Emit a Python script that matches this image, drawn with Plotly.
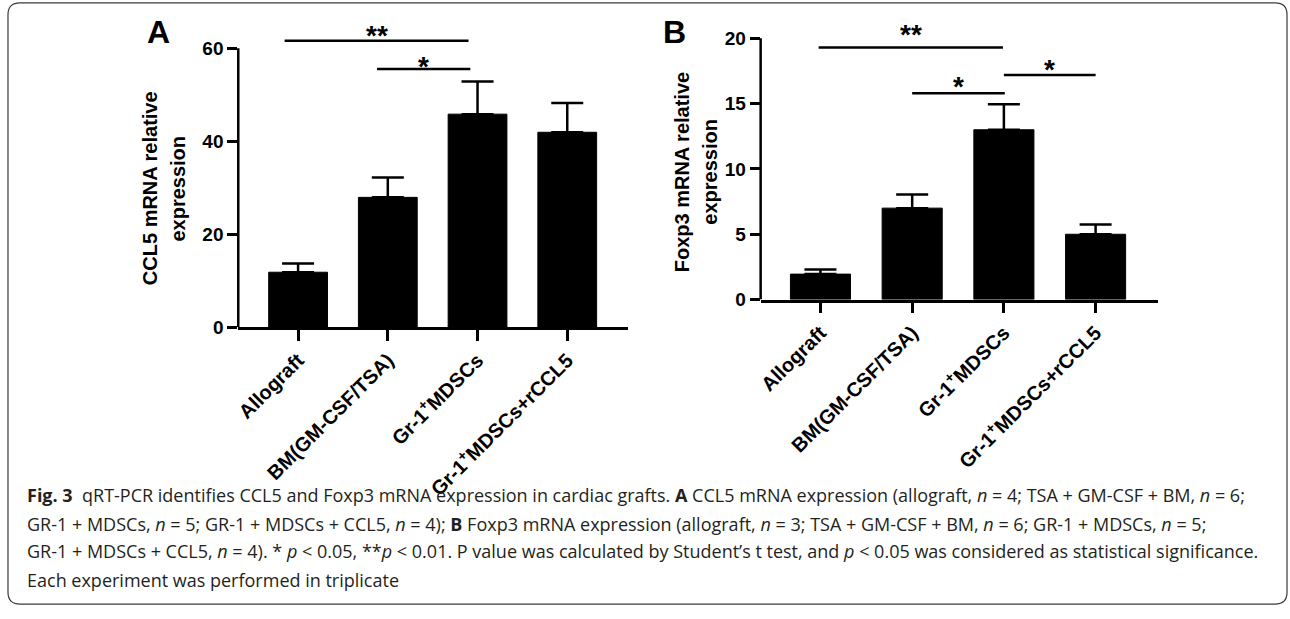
import plotly.graph_objects as go

# ---------------- data ----------------
categories = ["Allograft", "BM(GM-CSF/TSA)", "Gr-1<sup>+</sup>MDSCs", "Gr-1<sup>+</sup>MDSCs+rCCL5"]
ccl5_mean = [11.8, 27.9, 45.8, 41.9]
ccl5_err = [1.9, 4.3, 7.0, 6.3]
foxp3_mean = [1.95, 7.0, 13.0, 5.0]
foxp3_err = [0.35, 1.05, 1.95, 0.75]
ccl5_ticks = [0, 20, 40, 60]
foxp3_ticks = [0, 5, 10, 15, 20]
# significance brackets: (x_start, x_end, y_line, label, y_label)
ccl5_sig = [(-0.15, 1.90, 61.6, "**", 64.1), (0.88, 1.92, 55.5, "*", 57.4)]
foxp3_sig = [(-0.02, 1.99, 19.3, "**", 20.75), (1.0, 2.01, 15.8, "*", 16.8), (2.0, 3.0, 17.2, "*", 18.1)]

caption_lines = [
    "<b>Fig. 3</b>  qRT-PCR identifies CCL5 and Foxp3 mRNA expression in cardiac grafts. <b>A</b> CCL5 mRNA expression (allograft, <i>n</i> = 4; TSA + GM-CSF + BM, <i>n</i> = 6;",
    "GR-1 + MDSCs, <i>n</i> = 5; GR-1 + MDSCs + CCL5, <i>n</i> = 4); <b>B</b> Foxp3 mRNA expression (allograft, <i>n</i> = 3; TSA + GM-CSF + BM, <i>n</i> = 6; GR-1 + MDSCs, <i>n</i> = 5;",
    "GR-1 + MDSCs + CCL5, <i>n</i> = 4). * <i>p</i> &lt; 0.05, **<i>p</i> &lt; 0.01. P value was calculated by Student’s t test, and <i>p</i> &lt; 0.05 was considered as statistical significance.",
    "Each experiment was performed in triplicate",
]

# ---------------- layout geometry (pixels) ----------------
W, H = 1290, 619
BOLD = "Liberation Sans, Arial, sans-serif"
CAP_FONT = "Open Sans, sans-serif"


def px_x(p):
    return p / W


def px_y(p):
    return 1 - p / H


fig = go.Figure()

panels = [
    dict(xa="x", ya="y", mean=ccl5_mean, err=ccl5_err, ticks=ccl5_ticks, sig=ccl5_sig,
         left=235, right=626, zero=333, top=49, spacing=90, letter="A", letter_px=(155, 33),
         title=["CCL5 mRNA relative", "expression"], title_x=(146.5, 175), title_y=191.5),
    dict(xa="x2", ya="y2", mean=foxp3_mean, err=foxp3_err, ticks=foxp3_ticks, sig=foxp3_sig,
         left=759, right=1158, zero=305, top=39, spacing=92, letter="B", letter_px=(673, 33),
         title=["Foxp3 mRNA relative", "expression"], title_x=(679.5, 708), title_y=175),
]

for i, p in enumerate(panels):
    fig.add_trace(go.Bar(
        x=categories, y=p["mean"], xaxis=p["xa"], yaxis=p["ya"],
        marker=dict(color="black", line=dict(width=1, color="black")), width=0.655,
        error_y=dict(type="data", array=p["err"], arrayminus=[0] * len(p["err"]),
                     symmetric=False, color="black", thickness=2.5, width=16),
        showlegend=False, hoverinfo="skip",
    ))
    tmax = p["ticks"][-1]
    ytop = tmax * p["zero"] / (p["zero"] - p["top"])
    tick0_px = p["left"] + 60
    r0 = (p["left"] - tick0_px) / p["spacing"]
    r1 = (p["right"] - tick0_px) / p["spacing"]
    suffix = "" if i == 0 else "2"
    fig.layout["xaxis" + suffix] = dict(
        domain=[px_x(p["left"]), px_x(p["right"])], range=[r0, r1], anchor=p["ya"],
        showline=True, linewidth=2.5, linecolor="black", ticks="outside", ticklen=11,
        tickwidth=2.5, tickcolor="black", tickangle=-45, showgrid=False, zeroline=False,
        tickfont=dict(family=BOLD, size=20, color="black", weight="bold"), fixedrange=True,
    )
    fig.layout["yaxis" + suffix] = dict(
        domain=[px_y(p["zero"]), 1], range=[0, ytop], anchor=p["xa"],
        showline=False, ticks="outside", ticklen=10, tickwidth=2.5, tickcolor="black",
        tickvals=p["ticks"], showgrid=False, zeroline=False,
        tickfont=dict(family=BOLD, size=19, color="black", weight="bold"), fixedrange=True,
    )
    # y axis line from 0 to top tick
    fig.add_shape(type="line", xref=p["xa"] + " domain", yref=p["ya"], x0=0, x1=0,
                  y0=0, y1=tmax, line=dict(color="black", width=2.5))
    # significance brackets
    for (sx0, sx1, sy, lab, ly) in p["sig"]:
        fig.add_shape(type="line", xref=p["xa"], yref=p["ya"], x0=sx0, x1=sx1, y0=sy, y1=sy,
                      line=dict(color="black", width=2.5))
        fig.add_annotation(xref=p["xa"], yref=p["ya"], x=(sx0 + sx1) / 2, y=ly, text=lab,
                           showarrow=False, yanchor="middle", yshift=-6,
                           font=dict(family=BOLD, size=28, color="black", weight="bold"))
    # panel letter
    fig.add_annotation(xref="paper", yref="paper", x=px_x(p["letter_px"][0]), y=px_y(p["letter_px"][1]),
                       text=p["letter"], showarrow=False, xanchor="center", yanchor="middle",
                       font=dict(family=BOLD, size=32, color="black", weight="bold"))
    # y axis title (two rotated lines)
    for txt, tx in zip(p["title"], p["title_x"]):
        fig.add_annotation(xref="paper", yref="paper", x=px_x(tx), y=px_y(p["title_y"]),
                           text=txt, showarrow=False, textangle=-90, xanchor="center", yanchor="middle",
                           font=dict(family=BOLD, size=20, color="black", weight="bold"))

# caption
cap_y = [504, 533, 561, 590]
for line, yy in zip(caption_lines, cap_y):
    fig.add_annotation(xref="paper", yref="paper", x=px_x(21), y=px_y(yy), text=line,
                       showarrow=False, xanchor="left", yanchor="middle", align="left",
                       font=dict(family=CAP_FONT, size=18, color="#231f20"))

# rounded border
L, T, R, B, rad = 4, 3, 1287, 615, 12
rx, ry = rad / W, rad / H
xl, xr, yt, yb = px_x(L), px_x(R), px_y(T), px_y(B)
path = (f"M {xl + rx},{yt} L {xr - rx},{yt} Q {xr},{yt} {xr},{yt - ry} "
        f"L {xr},{yb + ry} Q {xr},{yb} {xr - rx},{yb} L {xl + rx},{yb} Q {xl},{yb} {xl},{yb + ry} "
        f"L {xl},{yt - ry} Q {xl},{yt} {xl + rx},{yt} Z")
fig.add_shape(type="path", xref="paper", yref="paper", path=path,
              line=dict(color="#3a3a3a", width=1.2), fillcolor="rgba(0,0,0,0)")

fig.update_layout(
    width=W, height=H, margin=dict(l=0, r=0, t=0, b=0),
    paper_bgcolor="white", plot_bgcolor="white", bargap=0.34,
)

fig.write_html("out.html", config={"displayModeBar": False},
               post_script="document.body.style.margin='0';document.body.style.overflow='hidden';")
